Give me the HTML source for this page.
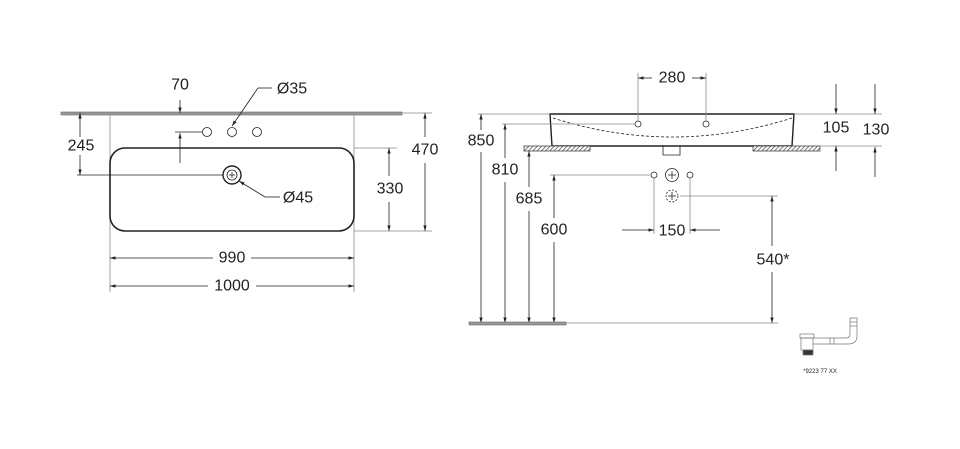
<!DOCTYPE html>
<html><head><meta charset="utf-8"><style>
html,body{margin:0;padding:0;background:#fff;}
svg{display:block;}
text{font-family:"Liberation Sans",sans-serif;font-size:16px;fill:#222;text-anchor:middle;dominant-baseline:central;}
</style></head><body>
<svg width="960" height="449" viewBox="0 0 960 449" xmlns="http://www.w3.org/2000/svg">
<defs>
<marker id="a" viewBox="0 0 10 10" refX="10" refY="5" markerWidth="7" markerHeight="7" orient="auto-start-reverse"><path d="M0,2 L10,5 L0,8 z" fill="#222"/></marker>
<pattern id="h" width="3" height="3" patternUnits="userSpaceOnUse" patternTransform="rotate(45)"><rect width="3" height="3" fill="#fff"/><line x1="0" y1="0" x2="0" y2="3" stroke="#444" stroke-width="1.4"/></pattern>
</defs>
<g stroke="#222" fill="none" stroke-width="0.8">
<rect x="61" y="112" width="341" height="3" fill="#999" stroke="#666" stroke-width="0.6"/>
<line x1="110" y1="115" x2="110" y2="292" stroke="#888"/>
<line x1="354" y1="115" x2="354" y2="292" stroke="#888"/>
<rect x="110" y="148" width="244" height="83" rx="15" stroke-width="1.6"/>
<circle cx="207" cy="132" r="4.5"/><circle cx="232" cy="132" r="4.5"/><circle cx="257" cy="132" r="4.5"/>
<circle cx="232" cy="175" r="9" stroke-width="1.4"/><circle cx="232" cy="175" r="5"/>
<line x1="229" y1="175" x2="235" y2="175"/><line x1="232" y1="172" x2="232" y2="178"/>
<line x1="180" y1="100" x2="180" y2="113" marker-end="url(#a)"/>
<line x1="180" y1="163" x2="180" y2="133" marker-end="url(#a)"/>
<line x1="175" y1="132" x2="202" y2="132"/>
<polyline points="258,88 232,126" marker-end="url(#a)"/><line x1="258" y1="88" x2="272" y2="88"/>
<polyline points="265,197 239,181" marker-end="url(#a)"/><line x1="265" y1="197" x2="280" y2="197"/>
<line x1="80" y1="137" x2="80" y2="113" marker-end="url(#a)"/>
<line x1="80" y1="155" x2="80" y2="175" marker-end="url(#a)"/>
<line x1="77" y1="175" x2="223" y2="175"/>
<line x1="354" y1="148" x2="397" y2="148" stroke="#888"/><line x1="354" y1="231" x2="432" y2="231" stroke="#888"/>
<line x1="389" y1="176" x2="389" y2="148" marker-end="url(#a)"/>
<line x1="389" y1="202" x2="389" y2="231" marker-end="url(#a)"/>
<line x1="402" y1="113" x2="432" y2="113" stroke="#888"/>
<line x1="425" y1="137" x2="425" y2="113" marker-end="url(#a)"/>
<line x1="425" y1="163" x2="425" y2="231" marker-end="url(#a)"/>
<line x1="213" y1="258" x2="110" y2="258" marker-end="url(#a)"/><line x1="251" y1="258" x2="354" y2="258" marker-end="url(#a)"/>
<line x1="208" y1="286" x2="110" y2="286" marker-end="url(#a)"/><line x1="256" y1="286" x2="354" y2="286" marker-end="url(#a)"/>

<path d="M550,114 L794,114 L792,146 L552,146 Z" stroke-width="1.4"/>
<path d="M553,118 Q672,156 792,118" stroke-dasharray="3,2"/>
<rect x="524" y="146" width="66" height="5" fill="url(#h)" stroke="#444"/>
<rect x="753" y="146" width="67" height="5" fill="url(#h)" stroke="#444"/>
<path d="M663,146 L663,155 L680,155 L680,146"/>
<circle cx="638" cy="124" r="3"/><circle cx="706" cy="124" r="3"/>
<line x1="638" y1="73" x2="638" y2="121" stroke="#888"/><line x1="706" y1="73" x2="706" y2="121" stroke="#888"/>
<line x1="652" y1="78" x2="638" y2="78" marker-end="url(#a)"/><line x1="692" y1="78" x2="706" y2="78" marker-end="url(#a)"/>
<line x1="794" y1="114" x2="882" y2="114" stroke="#888"/><line x1="820" y1="146" x2="882" y2="146" stroke="#888"/>
<line x1="836" y1="84" x2="836" y2="114" marker-end="url(#a)"/><line x1="836" y1="171" x2="836" y2="146" marker-end="url(#a)"/>
<line x1="875" y1="84" x2="875" y2="114" marker-end="url(#a)"/><line x1="875" y1="177" x2="875" y2="147" marker-end="url(#a)"/>
<line x1="478" y1="114" x2="550" y2="114" stroke="#888"/>
<line x1="502" y1="124" x2="635" y2="124" stroke="#888"/>
<line x1="550" y1="175" x2="650" y2="175" stroke="#888"/>
<line x1="481" y1="130" x2="481" y2="114" marker-end="url(#a)"/><line x1="481" y1="152" x2="481" y2="323" marker-end="url(#a)"/>
<line x1="505" y1="158" x2="505" y2="124" marker-end="url(#a)"/><line x1="505" y1="182" x2="505" y2="323" marker-end="url(#a)"/>
<line x1="529" y1="187" x2="529" y2="151" marker-end="url(#a)"/><line x1="529" y1="211" x2="529" y2="323" marker-end="url(#a)"/>
<line x1="554" y1="218" x2="554" y2="175" marker-end="url(#a)"/><line x1="554" y1="242" x2="554" y2="323" marker-end="url(#a)"/>
<circle cx="654" cy="175" r="3"/><circle cx="672" cy="175" r="6.5"/><circle cx="690" cy="175" r="3"/>
<line x1="668" y1="175" x2="676" y2="175"/><line x1="672" y1="171" x2="672" y2="179"/>
<circle cx="672" cy="196" r="6" stroke-dasharray="2,1.5"/>
<line x1="668" y1="196" x2="676" y2="196"/><line x1="672" y1="192" x2="672" y2="200"/>
<line x1="680" y1="196" x2="778" y2="196" stroke="#888"/>
<line x1="654" y1="178" x2="654" y2="234" stroke="#888"/><line x1="690" y1="178" x2="690" y2="234" stroke="#888"/>
<line x1="622" y1="230" x2="654" y2="230" marker-end="url(#a)"/><line x1="720" y1="230" x2="690" y2="230" marker-end="url(#a)"/>
<line x1="772" y1="246" x2="772" y2="196" marker-end="url(#a)"/><line x1="772" y1="272" x2="772" y2="323" marker-end="url(#a)"/>
<rect x="469" y="322" width="97" height="3" fill="#999" stroke="#666" stroke-width="0.6"/>
<line x1="566" y1="323" x2="778" y2="323" stroke="#888"/>
<g stroke="#777" stroke-width="0.7">
<rect x="800" y="334" width="14" height="4"/><rect x="801" y="338" width="12" height="12"/>
<rect x="803" y="350" width="10" height="5" fill="#333"/>
<path d="M813,344 L848,344 Q857,344 857,336 L857,318 L850,318 L850,334 Q850,338 846,338 L813,338"/>
<line x1="830" y1="338" x2="830" y2="344"/><line x1="834" y1="338" x2="834" y2="344"/>
<line x1="850" y1="322" x2="857" y2="322"/><line x1="850" y1="326" x2="857" y2="326"/>
</g>
</g>
<text x="180" y="85">70</text>
<text x="292" y="89">Ø35</text>
<text x="298" y="198">Ø45</text>
<text x="81" y="146">245</text>
<text x="390" y="189">330</text>
<text x="425" y="150">470</text>
<text x="232" y="258">990</text>
<text x="232" y="286">1000</text>
<text x="672" y="78">280</text>
<text x="836" y="128">105</text>
<text x="876" y="130">130</text>
<text x="481" y="141">850</text>
<text x="505" y="170">810</text>
<text x="529" y="199">685</text>
<text x="554" y="230">600</text>
<text x="672" y="231">150</text>
<text x="773" y="260">540*</text>
<text x="820" y="372" style="font-size:6px">*9223 77 XX</text>
</svg>
</body></html>
